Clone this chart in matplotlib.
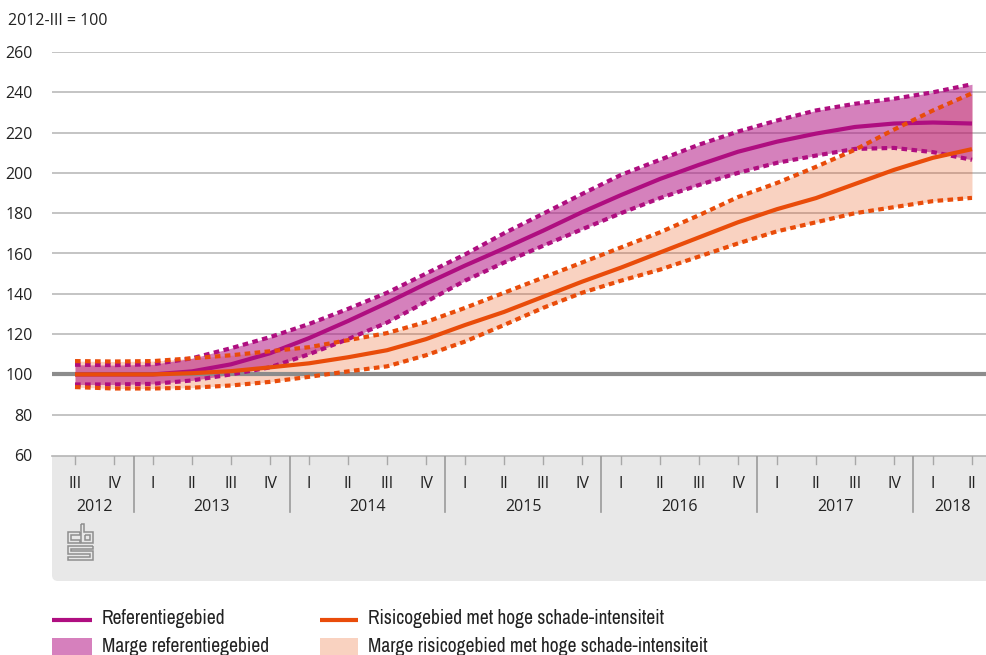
import matplotlib
matplotlib.use("Agg")
import matplotlib.pyplot as plt
from matplotlib import font_manager
from matplotlib.font_manager import FontProperties
from matplotlib.patches import FancyBboxPatch, Rectangle
from matplotlib.lines import Line2D
from matplotlib.path import Path
from matplotlib.patches import PathPatch

# ---------------- data ----------------
quarters = ["III", "IV",
            "I", "II", "III", "IV",
            "I", "II", "III", "IV",
            "I", "II", "III", "IV",
            "I", "II", "III", "IV",
            "I", "II", "III", "IV",
            "I", "II"]
years = ["2012", "2013", "2014", "2015", "2016", "2017", "2018"]
year_counts = [2, 4, 4, 4, 4, 4, 2]

ref = [100, 100, 100, 101.5, 105, 110.5, 118, 126.5, 135.5, 145, 154, 162.5,
       171.3, 180.5, 189, 197, 204, 210.5, 215.5, 219.5, 222.8, 224.5, 225, 224.5]
ref_hi = [104.8, 104.6, 105, 108, 113, 118.5, 125, 132.5, 140.5, 150, 159.5, 170,
          179.7, 189.5, 199, 206.5, 214, 220.5, 226, 231, 234.3, 236.8, 240, 244]
ref_lo = [95, 95, 95.3, 97, 100, 103.5, 110, 117.5, 125.7, 136, 146.5, 155.5,
          163.8, 172, 180, 187.5, 194, 200, 205, 208.6, 211.9, 212.4, 210.3, 206.5]
risk = [100, 100, 100, 100.6, 101.6, 103.5, 105.5, 108.5, 112, 117.5, 124.5, 131,
        138.5, 146, 153, 160.5, 168, 175.5, 182, 187.5, 194.5, 201.5, 207.5, 211.8]
risk_hi = [106.6, 106.4, 106.6, 108, 109.5, 111.5, 113.5, 117, 120.5, 126, 133, 140.5,
           148, 155.5, 163, 170.5, 179, 188, 195, 203, 211.5, 221.5, 231, 239.5]
risk_lo = [93.7, 93, 93, 93.4, 94.5, 96.3, 98.8, 101.5, 104, 109.5, 116.3, 124.5,
           133, 140.5, 146.5, 152, 158.5, 165, 171, 175.5, 180, 183, 186, 187.6]

y_ticks = [60, 80, 100, 120, 140, 160, 180, 200, 220, 240, 260]
y_title = "2012-III = 100"
legend_labels = ["Referentiegebied", "Marge referentiegebied",
                 "Risicogebied met hoge schade-intensiteit",
                 "Marge risicogebied met hoge schade-intensiteit"]

# ---------------- style ----------------
PURPLE = "#AF0E80"
ORANGE = "#E94C0A"
TXT = "#222222"

names = {f.name for f in font_manager.fontManager.ttflist}
TICK_FAMILY = "Open Sans" if "Open Sans" in names else "DejaVu Sans"
tick_fp = FontProperties(family=TICK_FAMILY, size=11.5)

# condensed / narrow regular face for the legend
cands = []
for f in font_manager.fontManager.ttflist:
    fn = f.fname.lower()
    if ("condensed" in fn or "narrow" in fn) and not any(
            k in fn for k in ("bold", "italic", "oblique", "light", "black",
                              "thin", "medium", "semi", "extra")):
        cands.append(f.fname)
pref = ["narrow", "opensans", "roboto", "dejavu"]
cands.sort(key=lambda p: next((i for i, k in enumerate(pref) if k in p.lower()), 99))
if cands:
    leg_fp = FontProperties(fname=cands[0], size=14)
else:
    leg_fp = FontProperties(family=TICK_FAMILY, size=11.5)

W, H = 987, 655
fig = plt.figure(figsize=(W / 100, H / 100), dpi=100)


def fx(px):
    return px / W


def fy(py):
    return 1 - py / H


X_LEFT, X_RIGHT = -0.59, 23.385
x = list(range(len(ref)))

ax = fig.add_axes([fx(52), fy(455), fx(987) - fx(52), fy(52) - fy(455)])
ax.set_xlim(X_LEFT, X_RIGHT)
ax.set_ylim(60, 260)
for s in ax.spines.values():
    s.set_visible(False)
ax.set_xticks([])
ax.set_yticks(y_ticks)
ax.set_yticklabels([str(v) for v in y_ticks], fontproperties=tick_fp, color=TXT)
ax.tick_params(axis="y", length=0, pad=14)
ax.patch.set_alpha(0)

for v in y_ticks:
    if v in (60, 100):
        continue
    ax.axhline(v, color="#b4b4b4", lw=1.1, zorder=0.5)

ax.fill_between(x, risk_lo, risk_hi, color=ORANGE, alpha=0.25, lw=0, zorder=1)
ax.fill_between(x, ref_lo, ref_hi, color=PURPLE, alpha=0.52, lw=0, zorder=2)
ax.axhline(100, color="#8c8c8c", lw=3.0, zorder=3)

dot = (0, (1.35, 1.05))
ax.plot(x, ref_hi, color=PURPLE, lw=3.0, ls=dot, zorder=4, dash_capstyle="butt")
ax.plot(x, ref_lo, color=PURPLE, lw=3.0, ls=dot, zorder=4, dash_capstyle="butt")
ax.plot(x, ref, color=PURPLE, lw=3.0, zorder=5, solid_capstyle="butt")
ax.plot(x, risk_hi, color=ORANGE, lw=3.0, ls=dot, zorder=6, dash_capstyle="butt")
ax.plot(x, risk_lo, color=ORANGE, lw=3.0, ls=dot, zorder=6, dash_capstyle="butt")
ax.plot(x, risk, color=ORANGE, lw=3.0, zorder=7, solid_capstyle="butt")

fig.text(fx(8), fy(21), y_title, fontproperties=tick_fp, color=TXT,
         ha="left", va="center")

# ---------------- x-axis box ----------------
inch = fig.dpi_scale_trans
box_top, box_bot = 456, 581
fig.patches.append(FancyBboxPatch((52 / 100, (H - box_bot) / 100), (1010 - 52) / 100,
                                  (box_bot - box_top) / 100,
                                  boxstyle="round,pad=0,rounding_size=0.06",
                                  transform=inch, fc="#e8e8e8", ec="none", zorder=-3))
fig.patches.append(Rectangle((52 / 100, (H - 520) / 100), (1010 - 52) / 100,
                             (520 - box_top) / 100, transform=inch, fc="#e8e8e8",
                             ec="none", zorder=-3))
fig.lines.append(Line2D([fx(52), 1], [fy(box_top), fy(box_top)], color="#b5b5b5",
                        lw=1.2, transform=fig.transFigure, zorder=-2))

ax2 = fig.add_axes([fx(52), fy(box_bot), fx(987) - fx(52), fy(box_top) - fy(box_bot)])
ax2.set_xlim(X_LEFT, X_RIGHT)
ax2.set_ylim(0, 1)
ax2.axis("off")
ax2.set_zorder(2)
bh = box_bot - box_top
for i, q in enumerate(quarters):
    ax2.plot([i, i], [1, 1 - 8 / bh], color="#a8a8a8", lw=1.0)
    ax2.text(i, (box_bot - 484) / bh, q, ha="center", va="center",
             fontproperties=tick_fp, color=TXT)
start = 0
for yr, n in zip(years, year_counts):
    ax2.text(start + (n - 1) / 2, (box_bot - 507) / bh, yr, ha="center", va="center",
             fontproperties=tick_fp, color=TXT)
    if start > 0:
        ax2.plot([start - 0.5, start - 0.5], [1, 1 - 56 / bh], color="#9a9a9a", lw=1.2)
    start += n

# logo (cbs) drawn as outline strokes, pixel coordinates
logo_paths = [
    [(80, 532), (68, 532), (68, 543), (80, 543), (80, 540), (71, 540), (71, 535), (80, 535), (80, 532)],
    [(81, 524), (84, 524), (84, 532), (93, 532), (93, 543), (81, 543), (81, 524)],
    [(85, 535), (90, 535), (90, 540), (85, 540), (85, 535)],
    [(93, 546), (68, 546), (68, 554), (90, 554), (90, 557), (68, 557), (68, 560),
     (93, 560), (93, 551), (71, 551), (71, 549), (93, 549), (93, 546)],
]
for pts in logo_paths:
    verts = [(px / 100, (H - py) / 100) for px, py in pts]
    fig.patches.append(PathPatch(Path(verts), transform=inch, fc="none",
                                 ec="#8e8e8e", lw=1.1, zorder=3))

# ---------------- legend ----------------
fig.lines.append(Line2D([fx(52), fx(92)], [fy(620), fy(620)], color=PURPLE, lw=3.0,
                        transform=fig.transFigure, solid_capstyle="butt"))
fig.lines.append(Line2D([fx(320), fx(358)], [fy(620), fy(620)], color=ORANGE, lw=3.0,
                        transform=fig.transFigure, solid_capstyle="butt"))
fig.patches.append(Rectangle((52 / 100, (H - 656) / 100), 40 / 100, 18 / 100,
                             transform=inch, fc="#D680BD", ec="none"))
fig.patches.append(Rectangle((320 / 100, (H - 656) / 100), 38 / 100, 18 / 100,
                             transform=inch, fc="#F9D2C0", ec="none"))
leg_kw = dict(fontproperties=leg_fp, color=TXT, ha="left", va="center")
fig.text(fx(102), fy(619), legend_labels[0], **leg_kw)
fig.text(fx(102), fy(646), legend_labels[1], **leg_kw)
fig.text(fx(368), fy(619), legend_labels[2], **leg_kw)
fig.text(fx(368), fy(646), legend_labels[3], **leg_kw)

fig.savefig("out.png", dpi=100)
